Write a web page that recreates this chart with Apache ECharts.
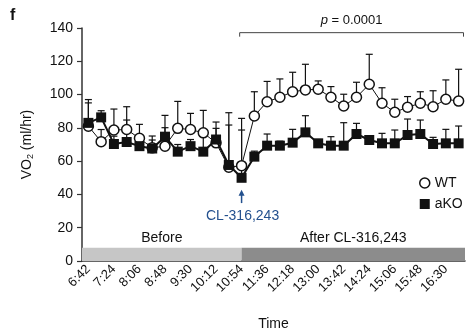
<!DOCTYPE html>
<html><head><meta charset="utf-8">
<script src="https://cdn.jsdelivr.net/npm/echarts@6/dist/echarts.min.js"></script>
<style>html,body{margin:0;padding:0;background:#fff}#c{width:470px;height:333px}</style>
</head><body><div id="c"></div>
<script>
const categories = ['6:42','7:03','7:24','7:45','8:06','8:27','8:48','9:09','9:30','9:51','10:12','10:33','10:54','11:15','11:36','11:57','12:18','12:39','13:00','13:21','13:42','14:03','14:24','14:45','15:06','15:27','15:48','16:09','16:30','16:51'];
const wtMean = [81, 71.7, 78.7, 79, 73.7, 68, 69, 79.7, 79, 77, 71, 56.3, 57.3, 87.1, 95.7, 98.4, 101.7, 102.8, 103.2, 98.4, 93.1, 98.4, 106.2, 94.8, 89.4, 92.4, 94.8, 92.7, 97.2, 96.1];
const wtErr = [14, 7.3, 12.6, 13.7, 8.4, 4.7, 18.5, 16.2, 9.7, 13.5, 12.5, 32.8, 28.4, 14.6, 12.2, 11, 11.7, 15.4, 5, 6.4, 7.1, 9, 18, 9.3, 7.8, 6.4, 6.9, 9.6, 11.6, 19.1];
const akoMean = [83, 86.3, 70.3, 71.5, 69, 67.6, 74.7, 65.7, 69, 65.7, 73, 57.7, 50, 62.7, 69.3, 69.3, 71.1, 77.3, 70.7, 69.3, 69.3, 76.3, 72.7, 70.7, 70.7, 75.7, 76.3, 70.3, 70.7, 70.7];
const akoErr = [14, 4, 4.7, 13.2, 6, 7.5, 5.4, 4.3, 4, 13, 6.7, 24, 28.7, 3.3, 7, 2.7, 8, 10, 2.3, 5.4, 13.8, 6.4, 2.3, 6, 8, 9.6, 8.4, 4, 8.4, 10.4];
const seriesNames = ['WT', 'aKO'];
const injectionIndex = 12;
const drugLabel = 'CL-316,243';
const phaseLabels = ['Before', 'After CL-316,243'];

const FONT = "'Liberation Sans', Arial, Helvetica, sans-serif";
const INK = '#111';

function errSeries(name, mean, err) {
  return {
    type: 'custom', name: name + ' err', z: 2, silent: true,
    encode: {x: 0, y: [1, 2]},
    data: mean.map((m, i) => [i, m, m + err[i]]),
    renderItem(params, api) {
      const i = api.value(0);
      const p0 = api.coord([i, api.value(1)]);
      const p1 = api.coord([i, api.value(2)]);
      const hw = 3.5;
      return {type: 'group', children: [
        {type: 'line', shape: {x1: p0[0], y1: p0[1], x2: p1[0], y2: p1[1]}, style: {stroke: INK, lineWidth: 1.2}},
        {type: 'line', shape: {x1: p1[0] - hw, y1: p1[1], x2: p1[0] + hw, y2: p1[1]}, style: {stroke: INK, lineWidth: 1.2}}
      ]};
    }
  };
}

const chart = echarts.init(document.getElementById('c'), null, {renderer: 'canvas'});
const option = {
  animation: false,
  textStyle: {fontFamily: FONT, color: INK},
  grid: {left: 82, right: 5, top: 28, bottom: 72, containLabel: false, outerBoundsMode: 'none'},
  legend: {
    orient: 'vertical', left: 414, top: 171, itemWidth: 10, itemHeight: 10, itemGap: 7,
    textStyle: {fontSize: 14, color: INK, fontFamily: FONT},
    data: [
      {name: seriesNames[0], icon: 'circle', itemStyle: {color: '#fff', borderColor: INK, borderWidth: 1.5}},
      {name: seriesNames[1], icon: 'rect', itemStyle: {color: INK}}
    ]
  },
  xAxis: {
    type: 'category', data: categories, boundaryGap: true,
    name: 'Time', nameLocation: 'middle', nameGap: 56,
    nameTextStyle: {fontSize: 14, color: INK, fontFamily: FONT},
    axisLine: {lineStyle: {color: '#333', width: 1.5}},
    axisTick: {interval: 0, length: 5, lineStyle: {color: '#333', width: 1.2}},
    axisLabel: {interval: 1, rotate: 45, fontSize: 13, color: INK, margin: 6, fontFamily: FONT},
    splitLine: {show: false}
  },
  yAxis: {
    type: 'value', min: 0, max: 140, interval: 20,
    name: 'VO{s|2} (ml/hr)', nameLocation: 'middle', nameGap: 47,
    nameTextStyle: {fontSize: 14, color: INK, fontFamily: FONT,
      rich: {s: {fontSize: 9, fontFamily: FONT, color: INK, padding: [7, 0, 0, 0]}}},
    axisLine: {show: true, lineStyle: {color: '#333', width: 1.5}},
    axisTick: {show: true, length: 5, lineStyle: {color: '#333', width: 1.2}},
    axisLabel: {fontSize: 14, color: INK, margin: 9, fontFamily: FONT},
    splitLine: {show: false}
  },
  series: [
    errSeries('WT', wtMean, wtErr),
    errSeries('aKO', akoMean, akoErr),
    {
      type: 'line', name: seriesNames[0], data: wtMean, z: 3,
      symbol: 'circle', symbolSize: 10, showSymbol: true, showAllSymbol: true,
      lineStyle: {color: INK, width: 1},
      itemStyle: {color: '#fff', borderColor: INK, borderWidth: 1.5}
    },
    {
      type: 'line', name: seriesNames[1], data: akoMean, z: 4,
      symbol: 'rect', symbolSize: 10, showSymbol: true, showAllSymbol: true,
      lineStyle: {color: INK, width: 2},
      itemStyle: {color: INK}
    }
  ]
};
chart.setOption(option);

const px = (i, v) => chart.convertToPixel({xAxisIndex: 0, yAxisIndex: 0}, [categories[i], v]);
const step = px(1, 0)[0] - px(0, 0)[0];
const xL = px(0, 0)[0] - step / 2;
const xR = px(categories.length - 1, 0)[0] + step / 2;
const xInj = px(injectionIndex, 0)[0];
const y0 = px(0, 0)[1];
const yBand = px(0, 8)[1];
const yBr = px(0, 137.2)[1];
const bx1 = xInj - 0.15 * step;
const bx2 = xR - 1.5;
const arrowTop = px(0, 42.2)[1];
const arrowBot = px(0, 34.8)[1];
const BLUE = '#23508e';

chart.setOption({graphic: [
  {type: 'rect', shape: {x: xL, y: yBand, width: xInj - xL, height: y0 - yBand}, style: {fill: '#c6c6c6'}, z: 1},
  {type: 'rect', shape: {x: xInj, y: yBand, width: xR - xInj, height: y0 - yBand}, style: {fill: '#8c8c8c'}, z: 1},
  {type: 'text', x: (xL + xInj) / 2, y: yBand - 10, style: {text: phaseLabels[0], fontSize: 14, fontFamily: FONT, fill: INK, align: 'center', verticalAlign: 'middle', textAlign: 'center', textVerticalAlign: 'middle'}},
  {type: 'text', x: (xInj + xR) / 2, y: yBand - 10, style: {text: phaseLabels[1], fontSize: 14, fontFamily: FONT, fill: INK, align: 'center', verticalAlign: 'middle', textAlign: 'center', textVerticalAlign: 'middle'}},
  {type: 'polyline', shape: {points: [[bx1, yBr + 4], [bx1, yBr], [bx2, yBr], [bx2, yBr + 4]]}, style: {stroke: '#444', lineWidth: 1, fill: null}},
  {type: 'text', x: (bx1 + bx2) / 2, y: yBr - 12, style: {text: '{i|p} = 0.0001', fontSize: 13, fontFamily: FONT, fill: INK, align: 'center', verticalAlign: 'middle', textAlign: 'center', textVerticalAlign: 'middle', rich: {i: {fontStyle: 'italic', fontSize: 13, fontFamily: FONT, fill: INK}}}},
  {type: 'line', shape: {x1: xInj, y1: arrowBot, x2: xInj, y2: arrowTop + 3}, style: {stroke: BLUE, lineWidth: 1.5}},
  {type: 'polygon', shape: {points: [[xInj, arrowTop - 1], [xInj - 3, arrowTop + 5], [xInj + 3, arrowTop + 5]]}, style: {fill: BLUE}},
  {type: 'text', x: xInj + 1, y: arrowBot + 13, style: {text: drugLabel, fontSize: 14, fontFamily: FONT, fill: BLUE, align: 'center', verticalAlign: 'middle', textAlign: 'center', textVerticalAlign: 'middle'}},
  {type: 'text', left: 10, top: 8, style: {text: 'f', fontSize: 16, fontWeight: 'bold', fontFamily: FONT, fill: INK}}
]});
</script>
</body></html>
